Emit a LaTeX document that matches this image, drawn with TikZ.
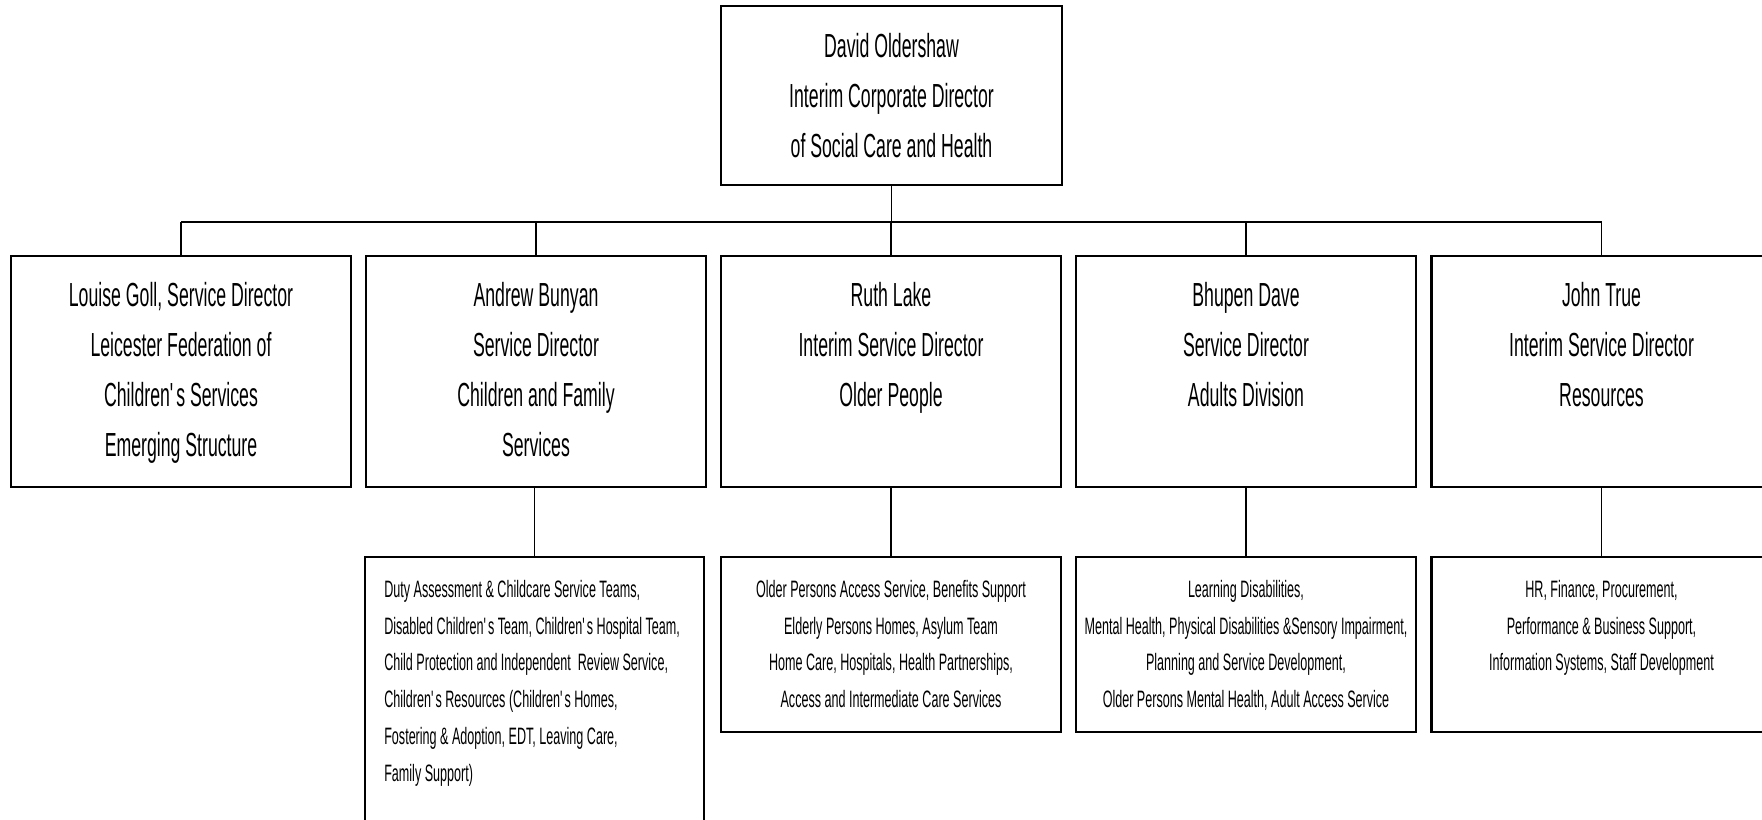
\documentclass[tikz,border=0pt]{standalone}
\usepackage{fontspec}
\setmainfont[FakeStretch=0.53]{Liberation Sans}
\usetikzlibrary{positioning}

\begin{document}
\begin{tikzpicture}
	\tikzstyle{chief} = [draw, line width=1.2pt, minimum width=6.82cm, minimum height=3.58cm, inner sep=0pt]
	\tikzstyle{director} = [draw, line width=1.2pt, minimum width=6.8cm, minimum height=4.62cm, inner sep=0pt]
	\tikzstyle{unit} = [draw, line width=1.2pt, minimum width=6.8cm, minimum height=3.5cm, inner sep=0pt]
\tikzstyle{big_text} = [inner sep=0pt, align=center, font=\fontsize{19}{28.5}\selectfont]
\tikzstyle{small_text} = [inner sep=0pt, align=center, font=\fontsize{13.5}{20.9}\selectfont]
\tikzstyle{edge} = [line width=0.6pt]
\tikzstyle{bar} = [line width=1.1pt]
\def\layerpos{8.97}
\def\unitpos{3.51}
\def\barpos{11.96}
\def\ap{\textquotesingle}

\clip (0,0) rectangle (35.24,16.4);

%corporate director
\node[chief] (chief) at (17.83, 14.49) {};
\node[big_text, below=0.56cm of chief.north] (chief_t) {David Oldershaw\\Interim Corporate Director\\of Social Care and Health};

%service directors
\foreach \name/\x in {goll/3.62, bunyan/10.72, lake/17.82, dave/24.92, true/32.03}
  	\node[director] (\name) at (\x, \layerpos) {};

\node[big_text, below=0.54cm of goll.north] (goll_t) {Louise Goll, Service Director\\Leicester Federation of\\Children\ap s Services\\Emerging Structure};
\node[big_text, below=0.54cm of bunyan.north] (bunyan_t) {Andrew Bunyan\\Service Director\\Children and Family\\Services};
\node[big_text, below=0.54cm of lake.north] (lake_t) {Ruth Lake\\Interim Service Director\\Older People};
\node[big_text, below=0.54cm of dave.north] (dave_t) {Bhupen Dave\\Service Director\\Adults Division};
\node[big_text, below=0.54cm of true.north] (true_t) {John True\\Interim Service Director\\Resources};

\coordinate (bar_l) at (3.62, \barpos);
\coordinate (bar_r) at (32.03, \barpos);
\draw[bar] (bar_l) -- (bar_r);
\draw[edge] (chief.south) -- (chief.south |- bar_l);
\foreach \name in {goll, bunyan, lake, dave, true}
	\draw[edge] (\name.north) -- (\name.north |- bar_l);

%services
\node[unit, minimum width=6.78cm, minimum height=6cm, anchor=north] (bunyan_sub) at (10.69, 5.28) {};
\foreach \name/\x in {lake_sub/17.82, dave_sub/24.92, true_sub/32.03}
  	\node[unit] (\name) at (\x, \unitpos) {};

\node[small_text, align=left, below right=0.48cm and 0.4cm of bunyan_sub.north west] (bunyan_sub_t) {Duty Assessment \& Childcare Service Teams,\\Disabled Children\ap s Team, Children\ap s Hospital Team,\\Child Protection and Independent~ Review Service,\\Children\ap s Resources (Children\ap s Homes,\\Fostering \& Adoption, EDT, Leaving Care,\\Family Support)};
\node[small_text, below=0.48cm of lake_sub.north] (lake_sub_t) {Older Persons Access Service, Benefits Support\\Elderly Persons Homes, Asylum Team\\Home Care, Hospitals, Health Partnerships,\\Access and Intermediate Care Services};
\node[small_text, below=0.48cm of dave_sub.north] (dave_sub_t) {Learning Disabilities,\\Mental Health, Physical Disabilities \&Sensory Impairment,\\Planning and Service Development,\\Older Persons Mental Health, Adult Access Service};
\node[small_text, below=0.48cm of true_sub.north] (true_sub_t) {HR, Finance, Procurement,\\Performance \& Business Support,\\Information Systems, Staff Development};

\foreach \from/\to in {bunyan/bunyan_sub, lake/lake_sub, dave/dave_sub, true/true_sub}
	\draw[edge] (\from.south -| \to.north) -- (\to.north);
\end{tikzpicture}
\end{document}
